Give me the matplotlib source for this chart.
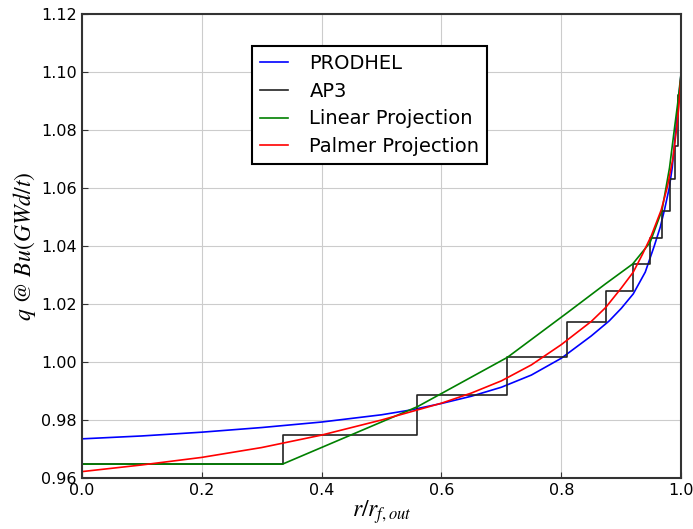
import matplotlib
matplotlib.use("Agg")
import matplotlib.pyplot as plt

# PRODHEL reference distribution
prodhel_r = [0.0, 0.1, 0.2, 0.3, 0.4, 0.5, 0.55, 0.6, 0.65, 0.7, 0.75, 0.8, 0.85, 0.88, 0.9, 0.92,
             0.94, 0.955, 0.965, 0.972, 0.98, 0.985, 0.99, 0.995, 1.0]
prodhel_q = [0.9735, 0.9745, 0.9758, 0.9774, 0.9793, 0.9818, 0.9835, 0.9857, 0.9882, 0.9913, 0.9955,
             1.0013, 1.009, 1.0142, 1.0185, 1.0235, 1.031, 1.040, 1.0465, 1.0524, 1.060, 1.067,
             1.078, 1.089, 1.10]

# AP3 ring-wise (step) values
ap3_edges = [0.0, 0.335, 0.56, 0.71, 0.81, 0.874, 0.919, 0.948, 0.968, 0.9805, 0.989, 0.994, 1.0]
ap3_q = [0.9648, 0.9748, 0.9886, 1.0017, 1.0138, 1.0245, 1.0337, 1.0427, 1.0522, 1.063, 1.0745, 1.092]

# Linear projection
lin_r = [0.0, 0.335, 0.56, 0.71, 0.81, 0.874, 0.919, 0.948, 0.968, 0.9805, 0.989, 0.994, 1.0]
lin_q = [0.9648, 0.9648, 0.9846, 1.0016, 1.017, 1.027, 1.0338, 1.0412, 1.0524, 1.067, 1.081, 1.089, 1.10]

# Palmer projection
pal_r = [0.0, 0.1, 0.2, 0.3, 0.4, 0.5, 0.6, 0.65, 0.7, 0.75, 0.8, 0.85, 0.874, 0.9, 0.92, 0.935,
         0.95, 0.9666, 0.977, 0.986, 0.992, 0.996, 1.0]
pal_q = [0.9622, 0.9645, 0.9671, 0.9705, 0.9748, 0.980, 0.9858, 0.9893, 0.9935, 0.999, 1.006, 1.014,
         1.0188, 1.0255, 1.031, 1.037, 1.0435, 1.0524, 1.0605, 1.070, 1.080, 1.088, 1.10]

xticks = [0.0, 0.2, 0.4, 0.6, 0.8, 1.0]
yticks = [0.96, 0.98, 1.00, 1.02, 1.04, 1.06, 1.08, 1.10, 1.12]

plt.rcParams['mathtext.fontset'] = 'stix'

fig = plt.figure(figsize=(6.93, 5.29), dpi=100)
ax = fig.add_axes([0.118, 0.0964, 0.865, 0.8771])

ax.plot(prodhel_r, prodhel_q, color='#0000ff', lw=1.2, label='PRODHEL')
ax.step(ap3_edges, ap3_q + [ap3_q[-1]], where='post', color='#222222', lw=1.2, label='AP3')
ax.plot(lin_r, lin_q, color='#008000', lw=1.2, label='Linear Projection')
ax.plot(pal_r, pal_q, color='#ff0000', lw=1.2, label='Palmer Projection')

ax.set_xlim(0, 1.0)
ax.set_ylim(0.96, 1.12)
ax.set_xticks(xticks)
ax.set_yticks(yticks)
ax.set_xticklabels([f"{v:.1f}" for v in xticks], fontsize=11.5)
ax.set_yticklabels([f"{v:.2f}" for v in yticks], fontsize=11.5)
ax.grid(True, color='#cccccc', lw=0.8)
ax.set_axisbelow(True)
for s in ax.spines.values():
    s.set_linewidth(1.5)
    s.set_color('#333333')
ax.tick_params(direction='in', length=4, color='#333333')

ax.set_xlabel(r'$r/r_{f,out}$', fontsize=17, labelpad=0)
ax.set_ylabel(r'$q\ @\ Bu(GWd/t)$', fontsize=17, labelpad=2)

leg = ax.legend(loc='upper left', bbox_to_anchor=(0.284, 0.931), borderaxespad=0, fontsize=14,
                fancybox=False, framealpha=1, edgecolor='black', handlelength=1.45,
                handletextpad=1.1, borderpad=0.4, labelspacing=0.45)
leg.get_frame().set_linewidth(1.5)

fig.savefig('out.png', dpi=100)
